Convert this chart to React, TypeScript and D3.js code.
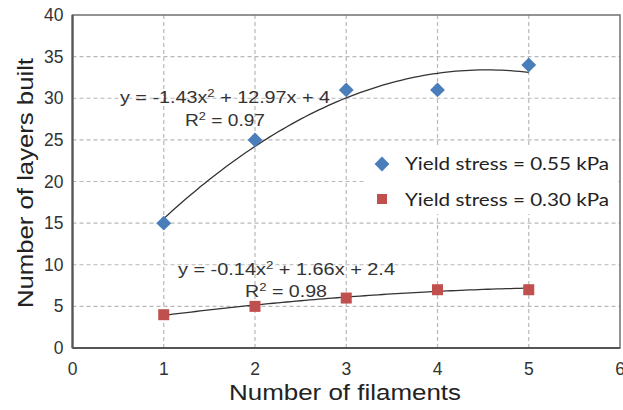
import React from "react";
import * as d3 from "d3";

const filaments = [1, 2, 3, 4, 5];
const layersHigh = [15, 25, 31, 31, 34];
const layersLow = [4, 5, 6, 7, 7];
const fitHigh = [-1.43, 12.97, 4];
const fitLow = [-0.14, 1.66, 2.4];
const xTicks = [0, 1, 2, 3, 4, 5, 6];
const yTicks = [0, 5, 10, 15, 20, 25, 30, 35, 40];
const seriesNames = ["Yield stress = 0.55 kPa", "Yield stress = 0.30 kPa"];

const W = 623;
const H = 410;
const m = { left: 72.5, right: 3, top: 15, bottom: 62 };

const BLUE = "#4a7ebb";
const RED = "#c0504d";
const TXT = "#333";
const FONT = "'Liberation Sans', Arial, sans-serif";

export default function App() {
  const x = d3.scaleLinear().domain([0, 6]).range([m.left, W - m.right]);
  const y = d3.scaleLinear().domain([0, 40]).range([H - m.bottom, m.top]);

  const poly = (c: number[]) => (v: number) => c[0] * v * v + c[1] * v + c[2];
  const samples = d3.range(1, 5.001, 0.05);
  const line = d3
    .line<number>()
    .x((v) => x(v))
    .curve(d3.curveLinear);
  const pathHigh = line.y((v) => y(poly(fitHigh)(v)))(samples) as string;
  const pathLow = line.y((v) => y(poly(fitLow)(v)))(samples) as string;

  const diamond = d3.symbol().type(d3.symbolSquare).size(110)() as string;

  return (
    <svg
      width={W}
      height={H}
      style={{ position: "absolute", left: 0, top: 0, background: "#fff" }}
      fontFamily={FONT}
    >
      {/* grid */}
      {yTicks.slice(1, -1).map((t) => (
        <line
          key={"gy" + t}
          x1={x(0)}
          x2={x(6)}
          y1={y(t)}
          y2={y(t)}
          stroke="#b8b8b8"
          strokeWidth={1.2}
          strokeDasharray="4,3"
        />
      ))}
      {xTicks.slice(1, -1).map((t) => (
        <line
          key={"gx" + t}
          x1={x(t)}
          x2={x(t)}
          y1={y(0)}
          y2={y(40)}
          stroke="#b8b8b8"
          strokeWidth={1.2}
          strokeDasharray="4,3"
        />
      ))}

      {/* frame */}
      <rect
        x={x(0)}
        y={y(40)}
        width={x(6) - x(0)}
        height={y(0) - y(40)}
        fill="none"
        stroke="#707070"
        strokeWidth={1.5}
      />
      <line x1={x(0)} x2={x(0)} y1={y(40)} y2={y(0)} stroke="#555" strokeWidth={2.2} />
      <line x1={x(0)} x2={x(6)} y1={y(0)} y2={y(0)} stroke="#555" strokeWidth={2.2} />

      {/* tick labels */}
      {yTicks.map((t) => (
        <text
          key={"ty" + t}
          x={x(0) - 9}
          y={y(t) + 6}
          textAnchor="end"
          fontSize={17.5}
          fill={TXT}
        >
          {t}
        </text>
      ))}
      {xTicks.map((t) => (
        <text
          key={"tx" + t}
          x={x(t)}
          y={y(0) + 27}
          textAnchor="middle"
          fontSize={17.5}
          fill={TXT}
        >
          {t}
        </text>
      ))}

      {/* axis titles */}
      <text
        x={345}
        y={400}
        textAnchor="middle"
        fontSize={22}
        fill="#222"
        textLength={232}
        lengthAdjust="spacingAndGlyphs"
      >
        Number of filaments
      </text>
      <text
        transform={`translate(33,${183}) rotate(-90)`}
        textAnchor="middle"
        fontSize={22}
        fill="#222"
        textLength={250}
        lengthAdjust="spacingAndGlyphs"
      >
        Number of layers built
      </text>

      {/* legend */}
      <rect x={366} y={146} width={252} height={68} fill="#fff" />
      <path d={diamond} transform={`translate(382,164) rotate(45)`} fill={BLUE} />
      <rect x={377} y={194} width={10} height={10} fill={RED} />
      <text
        x={405}
        y={170}
        fontSize={18}
        fill="#222"
        fontFamily="Lato, 'Open Sans', sans-serif"
        textLength={204}
        lengthAdjust="spacingAndGlyphs"
      >
        {seriesNames[0]}
      </text>
      <text
        x={405}
        y={206}
        fontSize={18}
        fill="#222"
        fontFamily="Lato, 'Open Sans', sans-serif"
        textLength={204}
        lengthAdjust="spacingAndGlyphs"
      >
        {seriesNames[1]}
      </text>

      {/* trend lines */}
      <path d={pathHigh} fill="none" stroke="#333" strokeWidth={1.3} />
      <path d={pathLow} fill="none" stroke="#333" strokeWidth={1.3} />

      {/* points */}
      {filaments.map((f, i) => (
        <path
          key={"h" + i}
          d={diamond}
          transform={`translate(${x(f)},${y(layersHigh[i])}) rotate(45)`}
          fill={BLUE}
        />
      ))}
      {filaments.map((f, i) => (
        <rect
          key={"l" + i}
          x={x(f) - 5.5}
          y={y(layersLow[i]) - 5.5}
          width={11}
          height={11}
          fill={RED}
        />
      ))}

      {/* fit equations */}
      <g fontSize={16.5} fill={TXT}>
        <text x={120} y={103} textLength={210} lengthAdjust="spacingAndGlyphs">
          y = -1.43x<tspan fontSize={11} dy={-6}>2</tspan>
          <tspan dy={6}> + 12.97x + 4</tspan>
        </text>
        <text x={185} y={126} textLength={80} lengthAdjust="spacingAndGlyphs">
          R<tspan fontSize={11} dy={-6}>2</tspan>
          <tspan dy={6}> = 0.97</tspan>
        </text>
        <text x={178} y={275} textLength={217} lengthAdjust="spacingAndGlyphs">
          y = -0.14x<tspan fontSize={11} dy={-6}>2</tspan>
          <tspan dy={6}> + 1.66x + 2.4</tspan>
        </text>
        <text x={245} y={297} textLength={82} lengthAdjust="spacingAndGlyphs">
          R<tspan fontSize={11} dy={-6}>2</tspan>
          <tspan dy={6}> = 0.98</tspan>
        </text>
      </g>
    </svg>
  );
}
